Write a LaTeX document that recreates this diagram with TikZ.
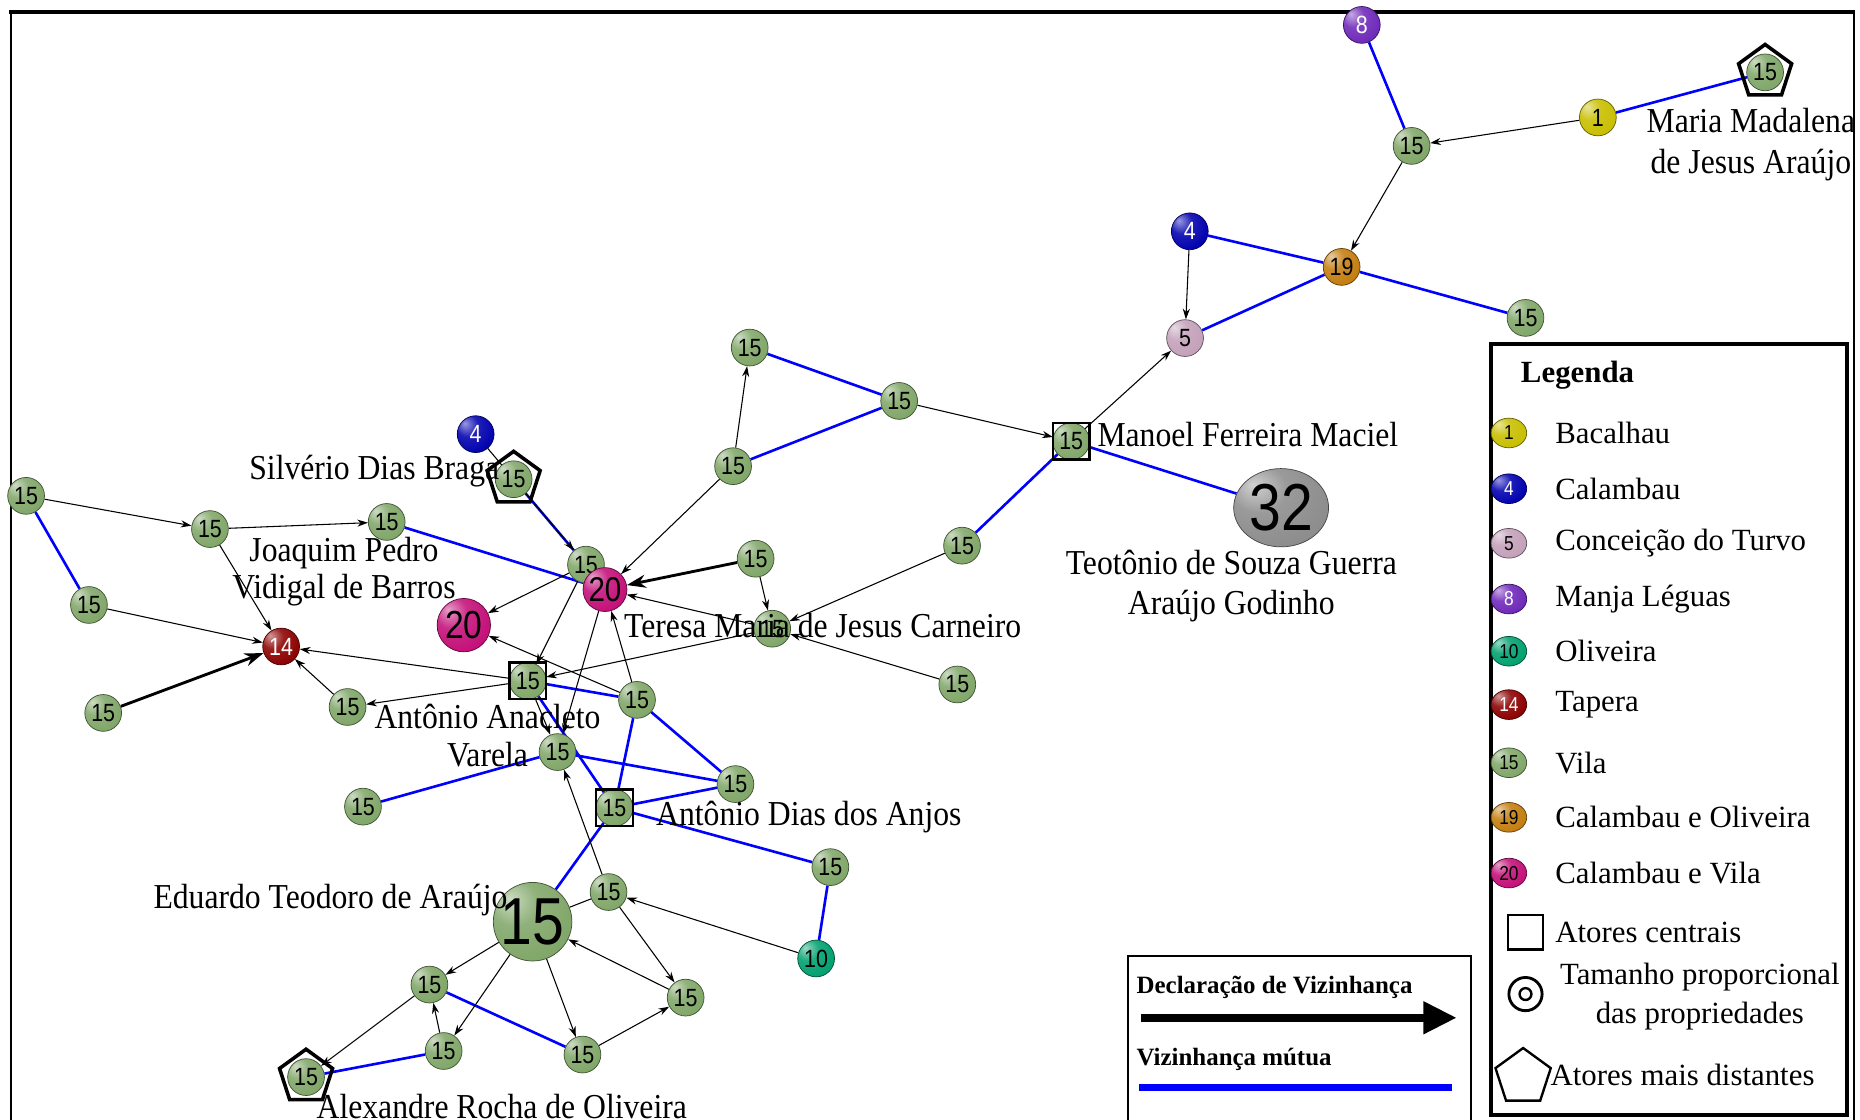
\documentclass[tikz,border=0pt]{standalone}
\usepackage{fontspec}
\setmainfont{Liberation Serif}
\newfontfamily\numfont[FakeStretch=0.86]{Liberation Sans}
\newfontfamily\lblfont[FakeStretch=0.905]{Liberation Serif}
\usetikzlibrary{arrows.meta,shapes.geometric}

% settlement colours
\definecolor{bac}{RGB}{200,190,0}
\definecolor{cal}{RGB}{0,0,175}
\definecolor{conc}{RGB}{195,160,185}
\definecolor{manja}{RGB}{110,40,185}
\definecolor{oliv}{RGB}{0,160,110}
\definecolor{tap}{RGB}{140,0,0}
\definecolor{vila}{RGB}{128,166,104}
\definecolor{caloliv}{RGB}{195,125,15}
\definecolor{calvila}{RGB}{195,15,120}
\definecolor{grey32}{RGB}{140,140,140}
\definecolor{mutblue}{RGB}{0,0,255}

% sphere look: light spot top left, darker rim bottom right
\colorlet{spherecol}{gray}
\pgfdeclareradialshading[spherecol]{sphere}{\pgfpoint{-15bp}{15bp}}{%
  color(0bp)=(spherecol!40!white);
  color(15bp)=(spherecol!88!white);
  color(35bp)=(spherecol);
  color(55bp)=(spherecol!75!black);
  color(70bp)=(spherecol!55!black)}

\pgfdeclarelayer{paper}
\pgfdeclarelayer{bg}
\pgfsetlayers{paper,bg,main}

\tikzset{
  ball/.style={circle, inner sep=0pt, minimum size=31pt, draw=#1!50!black, line width=0.6pt,
    /utils/exec={\colorlet{spherecol}{#1}}, shading=sphere,
    font=\numfont\fontsize{21}{21}\selectfont},
  lball/.style={ball=#1, ellipse, minimum width=30pt, minimum height=25pt,
    font=\numfont\fontsize{17}{17}\selectfont},
  wtext/.style={text=white},
  sqbox/.style={draw, line width=2pt, minimum size=31pt, inner sep=0pt},
  pent/.style={regular polygon, regular polygon sides=5, draw, line width=3pt,
    minimum size=47pt, inner sep=0pt},
  lbl/.style={font=\lblfont\fontsize{29.5}{35}\selectfont, inner sep=0pt, align=center},
  legtxt/.style={font=\fontsize{26}{33}\selectfont, inner sep=0pt, anchor=west, align=center},
  mut/.style={mutblue, line width=2.2pt},
  decl/.style={-{Stealth[length=9pt,width=6pt]}, line width=0.9pt},
  declbold/.style={-{Stealth[length=16pt,width=11pt]}, line width=2.4pt},
}

\begin{document}
\begin{tikzpicture}[x=1pt,y=-1pt]
\useasboundingbox (0,0) rectangle (1568,944);
\begin{pgfonlayer}{paper}
  \fill[white] (0,0) rectangle (1568,944);
\end{pgfonlayer}

% outer frame
\draw[line width=1.5pt] (9,960) -- (9,10);
\draw[line width=1.5pt] (1563,10) -- (1563,960);
\draw[line width=3pt] (8,10) -- (1564,10);

% ---------- actors ----------
\node[ball=manja, wtext] (m8) at (1148,21) {8};
\node[ball=vila] (v1) at (1190,123) {15};
\node[ball=bac] (b1) at (1347,99) {1};
\node[ball=vila] (mm) at (1488,61) {15};
\node[ball=cal, wtext] (c4a) at (1003,195) {4};
\node[ball=caloliv] (co19) at (1131,225) {19};
\node[ball=vila] (v2) at (1286,268) {15};
\node[ball=conc] (t5) at (999,285) {5};
\node[ball=vila] (mf) at (903,372) {15};
\node[ball=grey32, ellipse, minimum width=80pt, minimum height=66pt,
      font=\numfont\fontsize{56}{56}\selectfont] (g32) at (1080,428) {32};
\node[ball=vila] (v3) at (758,338) {15};
\node[ball=vila] (v4) at (632,293) {15};
\node[ball=vila] (v5) at (618,393) {15};
\node[ball=vila] (v6) at (811,460) {15};
\node[ball=cal, wtext] (c4b) at (401,366) {4};
\node[ball=vila] (sb) at (433,404) {15};
\node[ball=vila] (v7) at (22,418) {15};
\node[ball=vila] (v8) at (177,446) {15};
\node[ball=vila] (v9) at (326,440) {15};
\node[ball=vila] (v10) at (494,476) {15};
\node[ball=calvila, minimum size=37pt, font=\numfont\fontsize{29}{29}\selectfont] (cv1) at (510,497) {20};
\node[ball=calvila, minimum size=45pt, font=\numfont\fontsize{33}{33}\selectfont] (cv2) at (391,527) {20};
\node[ball=vila] (v11) at (637,471) {15};
\node[ball=vila] (tm) at (651,530) {15};
\node[ball=vila] (v12) at (807,577) {15};
\node[ball=vila] (v13) at (75,510) {15};
\node[ball=tap, wtext] (tp) at (237,545) {14};
\node[ball=vila] (v14) at (87,601) {15};
\node[ball=vila] (v15) at (293,596) {15};
\node[ball=vila] (aa) at (445,574) {15};
\node[ball=vila] (v16) at (537,590) {15};
\node[ball=vila] (v17) at (470,634) {15};
\node[ball=vila] (v18) at (620,661) {15};
\node[ball=vila] (v19) at (306,680) {15};
\node[ball=vila] (ad) at (518,681) {15};
\node[ball=vila] (v20) at (700,731) {15};
\node[ball=vila, minimum size=66pt, font=\numfont\fontsize{56}{56}\selectfont] (ed) at (449,777) {15};
\node[ball=vila] (v21) at (513,752) {15};
\node[ball=oliv] (ol) at (688,808) {10};
\node[ball=vila] (v22) at (362,830) {15};
\node[ball=vila] (v23) at (578,841) {15};
\node[ball=vila] (v24) at (374,886) {15};
\node[ball=vila] (v25) at (491,889) {15};
\node[ball=vila] (ar) at (258,908) {15};

% central actors and most distant actors
\node[sqbox] (mfsq) at (mf) {};
\node[sqbox] (aasq) at (aa) {};
\node[sqbox] (adsq) at (ad) {};
\node[pent] (mmpen) at (mm) {};
\node[pent] (sbpen) at (sb) {};
\node[pent] (arpen) at (ar) {};

% ---------- ties ----------
\begin{pgfonlayer}{bg}
  % mutual neighbourhood
  \draw[mut] (m8) -- (v1);
  \draw[mut] (b1) -- (mm);
  \draw[mut] (c4a) -- (co19);
  \draw[mut] (t5) -- (co19);
  \draw[mut] (co19) -- (v2);
  \draw[mut] (v4) -- (v3);
  \draw[mut] (v5) -- (v3);
  \draw[mut] (v6) -- (mf);
  \draw[mut] (mf) -- (g32);
  \draw[mut] (sb) -- (v10);
  \draw[mut] (v9) -- (cv1);
  \draw[mut] (v7) -- (v13);
  \draw[mut] (aa) -- (v16);
  \draw[mut] (aa) -- (ad);
  \draw[mut] (v17) -- (v18);
  \draw[mut] (v19) -- (v17);
  \draw[mut] (v16) -- (ad);
  \draw[mut] (v16) -- (v18);
  \draw[mut] (ad) -- (v18);
  \draw[mut] (ad) -- (v20);
  \draw[mut] (ad) -- (ed);
  \draw[mut] (v20) -- (ol);
  \draw[mut] (v22) -- (v25);
  \draw[mut] (ar) -- (v24);
  % declared neighbourhood
  \draw[decl] (b1) -- (v1);
  \draw[decl] (v1) -- (co19);
  \draw[decl] (c4a) -- (t5);
  \draw[decl] (mf) -- (t5);
  \draw[decl] (v5) -- (v4);
  \draw[decl] (v3) -- (mf);
  \draw[decl] (v5) -- (cv1);
  \draw[decl] (c4b) -- (v10);
  \draw[decl] (v10) -- (cv2);
  \draw[decl] (v10) -- (aa);
  \draw[decl] (cv1) -- (v17);
  \draw[decl] (aa) -- (v17);
  \draw[decl] (v6) -- (tm);
  \draw[decl] (v11) -- (tm);
  \draw[decl] (v12) -- (tm);
  \draw[decl] (tm) -- (aa);
  \draw[decl] (tm) -- (cv1);
  \draw[decl] (v16) -- (cv2);
  \draw[decl] (v16) -- (cv1);
  \draw[decl] (v7) -- (v8);
  \draw[decl] (v8) -- (v9);
  \draw[decl] (v8) -- (tp);
  \draw[decl] (v13) -- (tp);
  \draw[decl] (v15) -- (tp);
  \draw[decl] (aa) -- (tp);
  \draw[decl] (aa) -- (v15);
  \draw[decl] (v21) -- (v17);
  \draw[decl] (ol) -- (v21);
  \draw[decl] (v21) -- (v23);
  \draw[decl] (v23) -- (ed);
  \draw[decl] (ed) -- (v22);
  \draw[decl] (ed) -- (v24);
  \draw[decl] (ed) -- (v25);
  \draw[decl] (v25) -- (v23);
  \draw[decl] (v24) -- (v22);
  \draw[decl] (v22) -- (ar);
  \draw[line width=0.9pt] (ed) -- (v21);
  \draw[declbold] (v11) -- (cv1);
  \draw[declbold] (v14) -- (tp);
\end{pgfonlayer}

% ---------- names ----------
\node[lbl] (lmm) at (1476,122) {Maria Madalena\\de Jesus Araújo};
\node[lbl, anchor=west] (lmf) at (925,366) {Manoel Ferreira Maciel};
\node[lbl, font=\lblfont\fontsize{29.5}{33}\selectfont] (lg32) at (1038,494) {Teotônio de Souza Guerra\\Araújo Godinho};
\node[lbl, anchor=east] (lsb) at (421,397) {Silvério Dias Braga};
\node[lbl, font=\lblfont\fontsize{29.5}{31}\selectfont] (ljp) at (290,482) {Joaquim Pedro\\Vidigal de Barros};
\node[lbl, anchor=west] (ltm) at (526,527) {Teresa Maria de Jesus Carneiro};
\node[lbl, font=\lblfont\fontsize{29.5}{32}\selectfont] (laa) at (411,620) {Antônio Anacleto\\Varela};
\node[lbl, anchor=west] (lad) at (553,689) {Antônio Dias dos Anjos};
\node[lbl, anchor=east] (led) at (428,759) {Eduardo Teodoro de Araújo};
\node[lbl] (lar) at (423,933) {Alexandre Rocha de Oliveira};

% ---------- legend ----------
\draw[line width=3pt] (1257,290) rectangle (1557,940);
\node[anchor=west, inner sep=0pt, font=\bfseries\fontsize{26}{26}\selectfont] (legt) at (1282,316) {Legenda};
\node[lball=bac] (k1) at (1272,365) {1};
\node[lball=cal, wtext] (k4) at (1272,412) {4};
\node[lball=conc] (k5) at (1272,458) {5};
\node[lball=manja, wtext] (k8) at (1272,505) {8};
\node[lball=oliv] (k10) at (1272,549) {10};
\node[lball=tap, wtext] (k14) at (1272,594) {14};
\node[lball=vila] (k15) at (1272,643) {15};
\node[lball=caloliv] (k19) at (1272,689) {19};
\node[lball=calvila] (k20) at (1272,736) {20};
\node[legtxt] at (1311,365) {Bacalhau};
\node[legtxt] at (1311,412) {Calambau};
\node[legtxt] at (1311,458) {Conceição do Turvo};
\node[legtxt] at (1311,505) {Manja Léguas};
\node[legtxt] at (1311,549) {Oliveira};
\node[legtxt] at (1311,594) {Tapera};
\node[legtxt] at (1311,643) {Vila};
\node[legtxt] at (1311,689) {Calambau e Oliveira};
\node[legtxt] at (1311,736) {Calambau e Vila};
\node[draw, line width=2pt, minimum size=29pt, inner sep=0pt] (ksq) at (1286,786) {};
\node[legtxt] at (1311,786) {Atores centrais};
\node[circle, draw, line width=2.4pt, minimum size=28pt, inner sep=0pt] (ksize) at (1286,838) {};
\node[circle, draw, line width=2pt, minimum size=10pt, inner sep=0pt] (ksizein) at (1286,838) {};
\node[legtxt, anchor=center] at (1433,840) {Tamanho proporcional\\das propriedades};
\node[regular polygon, regular polygon sides=5, draw, line width=2pt, minimum size=49pt, inner sep=0pt] (kpen) at (1284,908) {};
\node[legtxt] at (1307,906) {Atores mais distantes};

% tie legend
\draw[line width=1.5pt] (951,960) -- (951,806) -- (1240,806) -- (1240,960);
\node[anchor=west, inner sep=0pt, font=\bfseries\fontsize{21}{21}\selectfont] (kdecl) at (958,832) {Declaração de Vizinhança};
\coordinate (ka) at (962,858);
\coordinate (kb) at (1228,858);
\draw[line width=6.5pt, -{Triangle[length=28pt,width=26pt]}] (ka) -- (kb);
\node[anchor=west, inner sep=0pt, font=\bfseries\fontsize{21}{21}\selectfont] (kmut) at (958,893) {Vizinhança mútua};
\coordinate (kc) at (960,917);
\coordinate (kd) at (1224,917);
\draw[mutblue, line width=6pt] (kc) -- (kd);
\end{tikzpicture}
\end{document}
